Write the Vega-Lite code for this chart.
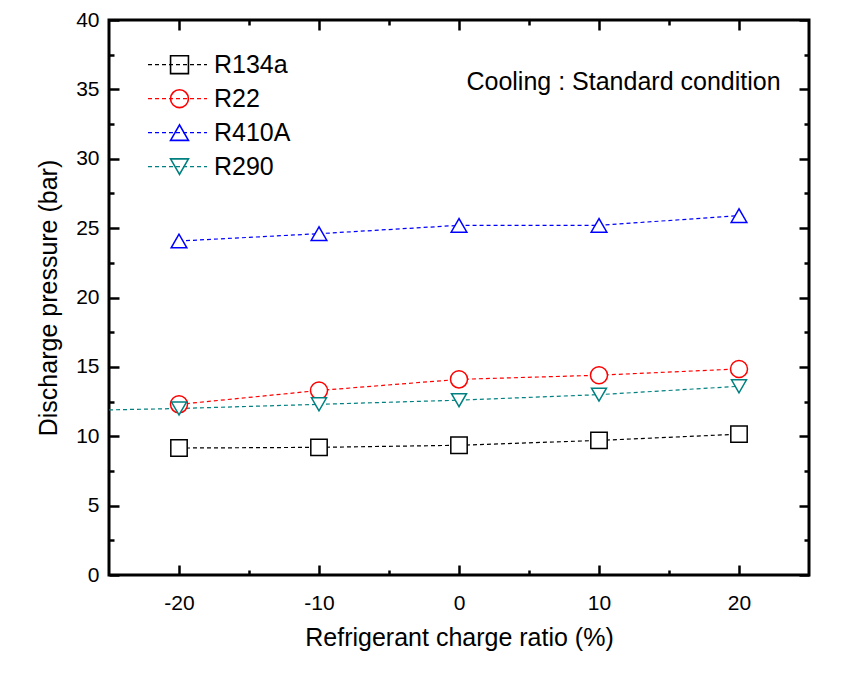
{
  "$schema": "https://vega.github.io/schema/vega-lite/v6.json",
  "width": 700,
  "height": 555,
  "padding": {"left": 36, "top": 9, "right": 10, "bottom": 5},
  "background": "white",
  "config": {
    "view": {"stroke": "black", "strokeWidth": 3},
    "font": "Liberation Sans",
    "axis": {
      "grid": false, "domain": false, "tickColor": "black", "tickWidth": 2.5,
      "labelColor": "black", "titleColor": "black",
      "labelFont": "Liberation Sans", "titleFont": "Liberation Sans",
      "labelFontSize": 21, "titleFontSize": 25, "titleFontWeight": "normal"
    }
  },
  "data": {
    "values": [
      {"series": "R134a", "ratio": -20, "pressure": 9.15},
      {"series": "R134a", "ratio": -10, "pressure": 9.2},
      {"series": "R134a", "ratio": 0, "pressure": 9.35},
      {"series": "R134a", "ratio": 10, "pressure": 9.7},
      {"series": "R134a", "ratio": 20, "pressure": 10.15},
      {"series": "R22", "ratio": -20, "pressure": 12.3},
      {"series": "R22", "ratio": -10, "pressure": 13.3},
      {"series": "R22", "ratio": 0, "pressure": 14.1},
      {"series": "R22", "ratio": 10, "pressure": 14.4},
      {"series": "R22", "ratio": 20, "pressure": 14.85},
      {"series": "R410A", "ratio": -20, "pressure": 24.07},
      {"series": "R410A", "ratio": -10, "pressure": 24.6},
      {"series": "R410A", "ratio": 0, "pressure": 25.2},
      {"series": "R410A", "ratio": 10, "pressure": 25.2},
      {"series": "R410A", "ratio": 20, "pressure": 25.9},
      {"series": "R290", "ratio": -25, "pressure": 11.9},
      {"series": "R290", "ratio": -20, "pressure": 12.0},
      {"series": "R290", "ratio": -10, "pressure": 12.3},
      {"series": "R290", "ratio": 0, "pressure": 12.6},
      {"series": "R290", "ratio": 10, "pressure": 13.0},
      {"series": "R290", "ratio": 20, "pressure": 13.6}
    ]
  },
  "layer": [
    {
      "mark": {"type": "line", "strokeWidth": 1.2},
      "encoding": {
        "x": {
          "field": "ratio", "type": "quantitative",
          "scale": {"domain": [-25, 25], "nice": false, "zero": false},
          "axis": {"orient": "bottom", "values": [-20, -10, 0, 10, 20], "labelExpr": "'' + datum.value", "tickSize": -10, "labelPadding": 27, "title": "Refrigerant charge ratio (%)", "titlePadding": 12}
        },
        "y": {
          "field": "pressure", "type": "quantitative",
          "scale": {"domain": [0, 40], "nice": false, "zero": false},
          "axis": {"orient": "left", "values": [0, 5, 10, 15, 20, 25, 30, 35, 40], "tickSize": -10, "labelPadding": 20, "title": "Discharge pressure (bar)", "titlePadding": 14}
        },
        "color": {
          "field": "series", "type": "nominal",
          "scale": {"domain": ["R134a", "R22", "R410A", "R290"], "range": ["#000000", "#FF0000", "#0000FF", "#008080"]}
        },
        "strokeDash": {
          "field": "series", "type": "nominal",
          "scale": {"domain": ["R134a", "R22", "R410A", "R290", "-"], "range": [[4, 3], [4, 3], [4, 3], [4, 3], [4, 3]]},
          "legend": {
            "values": ["R134a", "R22", "R410A", "R290"],
            "orient": "top-left", "offset": 28, "title": null, "padding": 0,
            "symbolType": "stroke", "symbolSize": 3481, "symbolStrokeWidth": 1.2, "symbolOffset": 10,
            "labelFontSize": 25, "labelExpr": "''", "clipHeight": 33.3, "rowPadding": 0,
            "encode": {"symbols": {"update": {"stroke": {"scale": "color", "field": "value"}}}}
          }
        }
      }
    },
    {
      "transform": [{"filter": "datum.ratio > -25"}],
      "mark": {"type": "point", "filled": false, "fill": "white", "fillOpacity": 1, "opacity": 1},
      "encoding": {
        "x": {
          "field": "ratio", "type": "quantitative",
          "axis": {"orient": "bottom", "values": [-15, -5, 5, 15], "tickSize": -5, "labels": false, "title": null}
        },
        "y": {
          "field": "pressure", "type": "quantitative",
          "axis": {"orient": "left", "values": [2.5, 7.5, 12.5, 17.5, 22.5, 27.5, 32.5, 37.5], "tickSize": -5, "labels": false, "title": null}
        },
        "color": {
          "field": "series", "type": "nominal",
          "legend": {
            "orient": "none", "legendX": 58, "legendY": 28, "title": null, "padding": 0, "symbolType": "circle",
            "symbolSize": 320, "symbolStrokeWidth": 1.6,
            "labelFontSize": 25, "labelFont": "Liberation Sans", "labelColor": "black", "labelOffset": 22, "labelLimit": 300,
            "clipHeight": 33.3, "rowPadding": 0, "symbolFillColor": "white",
            "encode": {"symbols": {"update": {"fill": {"value": "white"}}}}
          }
        },
        "shape": {
          "field": "series", "type": "nominal",
          "scale": {"domain": ["R134a", "R22", "R410A", "R290"], "range": ["square", "circle", "triangle-up", "triangle-down"]},
          "legend": {
            "orient": "none", "legendX": 58, "legendY": 28, "title": null, "padding": 0, "symbolType": "circle",
            "symbolSize": 320, "symbolStrokeWidth": 1.6,
            "labelFontSize": 25, "labelFont": "Liberation Sans", "labelColor": "black", "labelOffset": 22, "labelLimit": 300,
            "clipHeight": 33.3, "rowPadding": 0, "symbolFillColor": "white",
            "encode": {"symbols": {"update": {"fill": {"value": "white"}}}}
          }
        },
        "size": {
          "field": "series", "type": "nominal",
          "scale": {"domain": ["R22", "R134a", "R410A", "R290"], "range": [290, 225, 440, 440]},
          "legend": null
        },
        "strokeWidth": {
          "field": "series", "type": "nominal",
          "scale": {"domain": ["R290", "R410A", "R22", "R134a"], "range": [1.5, 1.5, 1.5, 3]},
          "legend": null
        }
      }
    },
    {
      "data": {"values": [{"note": "Cooling : Standard condition"}]},
      "mark": {"type": "text", "fontSize": 25, "font": "Liberation Sans", "align": "center", "baseline": "middle", "color": "black"},
      "encoding": {
        "text": {"field": "note", "type": "nominal"},
        "x": {"datum": 11.75, "type": "quantitative", "axis": {"orient": "top", "values": [-20, -10, 0, 10, 20], "tickSize": -10, "labels": false, "title": null}},
        "y": {"datum": 35.5, "type": "quantitative", "axis": {"orient": "right", "values": [0, 5, 10, 15, 20, 25, 30, 35, 40], "tickSize": -10, "labels": false, "title": null}}
      }
    },
    {
      "data": {"values": [{"note": ""}]},
      "mark": {"type": "text"},
      "encoding": {
        "text": {"field": "note", "type": "nominal"},
        "x": {"datum": 0, "type": "quantitative", "axis": {"orient": "top", "values": [-15, -5, 5, 15], "tickSize": -5, "labels": false, "title": null}},
        "y": {"datum": 20, "type": "quantitative", "axis": {"orient": "right", "values": [2.5, 7.5, 12.5, 17.5, 22.5, 27.5, 32.5, 37.5], "tickSize": -5, "labels": false, "title": null}}
      }
    }
  ],
  "resolve": {"axis": {"x": "independent", "y": "independent"}}
}
